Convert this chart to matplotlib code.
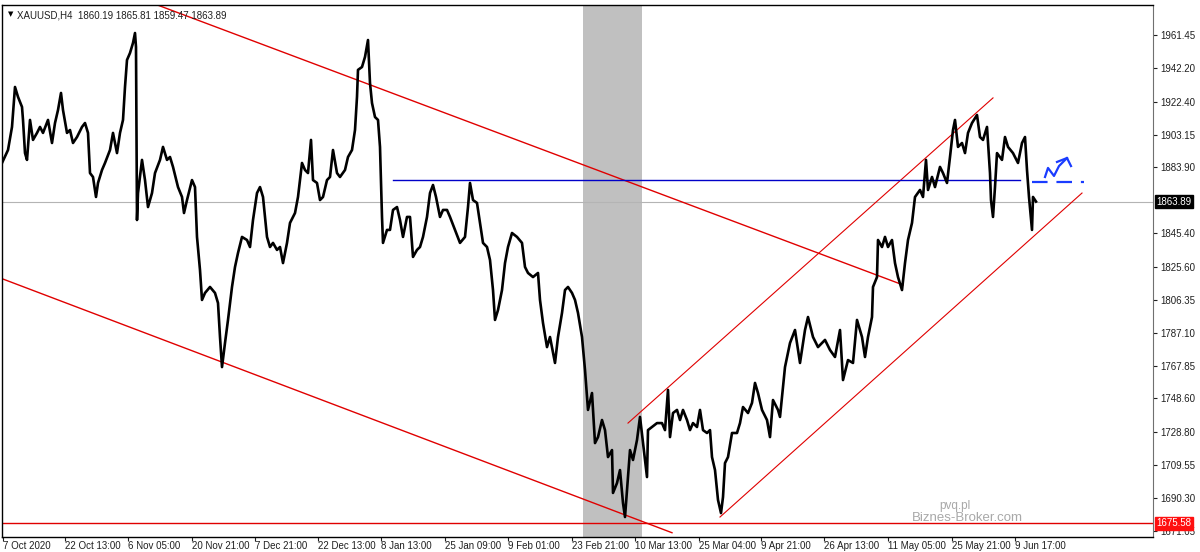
import matplotlib
matplotlib.use("Agg")
import matplotlib.pyplot as plt
import matplotlib.transforms as mtransforms

plt.rcParams["font.family"] = ["Liberation Sans", "DejaVu Sans"]

# H4 bar number (since 7 Oct 2020) and price
bar = [2, 8, 12, 15, 18, 22, 23, 25, 27, 30, 33, 37, 40, 43, 48, 52, 55, 58, 61, 63,
       67, 70, 73, 77, 82, 85, 88, 90, 93, 96, 98, 102, 105, 110, 113, 117, 120, 123, 125, 127,
       130, 133, 135, 136, 137, 138, 142, 145, 148, 152, 155, 160, 163, 167, 170, 173, 178, 182, 184, 187,
       192, 195, 197, 200, 202, 205, 210, 215, 218, 220, 222, 225, 228, 232, 235, 238, 242, 247, 250, 253,
       257, 260, 263, 267, 270, 273, 277, 280, 283, 287, 290, 295, 298, 302, 305, 308, 311, 313, 317, 320,
       323, 327, 330, 333, 337, 340, 345, 348, 352, 355, 357, 358, 362, 365, 368, 370, 372, 375, 378, 380,
       382, 383, 387, 390, 393, 397, 400, 403, 407, 410, 413, 417, 420, 423, 427, 430, 433, 436, 440, 443,
       447, 450, 455, 460, 465, 468, 470, 473, 477, 480, 483, 487, 490, 493, 495, 498, 502, 505, 508, 512,
       517, 522, 525, 528, 533, 538, 540, 543, 547, 550, 555, 558, 562, 565, 568, 572, 575, 578, 582, 585,
       588, 592, 595, 598, 602, 605, 608, 612, 613, 617, 620, 623, 625, 628, 630, 633, 637, 640, 643, 647,
       648, 652, 657, 662, 665, 668, 670, 673, 677, 680, 683, 687, 690, 693, 697, 700, 703, 707, 710, 712,
       715, 718, 721, 723, 725, 728, 732, 737, 740, 743, 748, 752, 755, 758, 762, 767, 770, 773, 778, 780,
       785, 790, 795, 800, 805, 808, 813, 818, 825, 830, 835, 840, 843, 848, 853, 857, 862, 865, 868, 872,
       873, 877, 878, 882, 885, 888, 892, 895, 898, 902, 905, 908, 912, 915, 920, 923, 926, 928, 932, 935,
       940, 943, 947, 950, 953, 955, 958, 962, 965, 968, 972, 977, 980, 983, 987, 990, 991, 993, 995, 997,
       1002, 1005, 1008, 1013, 1018, 1022, 1025, 1027, 1029, 1032, 1033, 1036]
price = [1886.5, 1894.1, 1907.6, 1931.0, 1925.2, 1919.3, 1911.7, 1892.3, 1888.3, 1911.7,
         1900.0, 1904.1, 1907.6, 1904.1, 1911.7, 1898.2, 1909.9, 1917.5, 1927.5, 1917.5,
         1904.1, 1905.8, 1898.2, 1901.7, 1907.6, 1909.9, 1904.1, 1880.6, 1878.3, 1866.6,
         1874.8, 1882.4, 1886.5, 1894.1, 1904.1, 1892.3, 1904.1, 1911.7, 1931.0, 1946.8,
         1950.9, 1956.8, 1962.6, 1954.4, 1853.1, 1868.9, 1888.3, 1876.5, 1860.7, 1868.9,
         1880.6, 1888.3, 1895.9, 1888.3, 1890.0, 1884.2, 1872.4, 1866.6, 1857.2, 1864.8,
         1876.5, 1872.4, 1843.2, 1823.8, 1806.3, 1810.4, 1813.9, 1810.4, 1804.5, 1784.6,
         1767.0, 1781.1, 1794.6, 1813.9, 1825.6, 1833.8, 1843.2, 1841.4, 1837.3, 1853.1,
         1868.9, 1872.4, 1866.6, 1843.2, 1837.3, 1839.7, 1835.6, 1837.3, 1827.9, 1839.7,
         1851.4, 1857.2, 1866.6, 1886.5, 1882.4, 1880.6, 1900.0, 1876.5, 1874.8, 1864.8,
         1866.6, 1876.5, 1878.3, 1894.1, 1880.6, 1878.3, 1882.4, 1890.0, 1894.1, 1905.8,
         1925.2, 1941.0, 1942.7, 1948.6, 1958.5, 1933.3, 1921.6, 1913.4, 1911.7, 1895.9,
         1854.9, 1839.7, 1847.3, 1847.3, 1859.0, 1860.7, 1853.1, 1843.2, 1854.9, 1854.9,
         1831.5, 1835.6, 1837.3, 1843.2, 1854.9, 1868.9, 1873.6, 1866.6, 1854.9, 1859.0,
         1859.0, 1854.9, 1847.3, 1839.7, 1843.2, 1860.7, 1874.8, 1864.8, 1863.1, 1851.4,
         1839.7, 1837.3, 1829.7, 1812.1, 1794.6, 1800.4, 1812.1, 1827.9, 1837.3, 1845.5,
         1843.2, 1839.7, 1825.6, 1822.1, 1819.7, 1822.1, 1806.3, 1792.8, 1778.7, 1784.6,
         1769.4, 1784.6, 1798.7, 1812.1, 1813.9, 1810.4, 1806.3, 1798.7, 1784.6, 1765.3,
         1741.9, 1751.8, 1722.5, 1726.0, 1736.0, 1730.1, 1714.3, 1718.4, 1693.3, 1699.1,
         1706.7, 1687.4, 1679.2, 1702.6, 1718.4, 1712.6, 1724.3, 1737.8, 1722.5, 1702.6,
         1730.1, 1731.9, 1734.2, 1734.2, 1730.1, 1753.6, 1726.0, 1740.1, 1741.9, 1736.0,
         1741.9, 1736.0, 1730.1, 1734.2, 1731.9, 1741.9, 1730.1, 1728.4, 1730.1, 1714.3,
         1706.7, 1689.2, 1681.5, 1690.9, 1710.8, 1714.3, 1728.4, 1728.4, 1734.2, 1743.6,
         1740.1, 1746.0, 1757.7, 1751.8, 1741.9, 1736.0, 1726.0, 1747.7, 1741.9, 1737.8,
         1767.0, 1781.1, 1788.7, 1769.4, 1788.7, 1796.3, 1784.6, 1778.7, 1782.9, 1777.0,
         1772.9, 1788.7, 1759.4, 1771.1, 1769.4, 1794.6, 1784.6, 1772.9, 1784.6, 1796.3,
         1813.9, 1819.7, 1841.4, 1837.3, 1843.2, 1837.3, 1841.4, 1827.9, 1819.7, 1812.1,
         1827.9, 1841.4, 1851.4, 1866.6, 1870.7, 1866.6, 1888.3, 1870.7, 1878.3, 1872.4,
         1884.2, 1880.6, 1874.8, 1890.0, 1905.8, 1911.7, 1895.9, 1898.2, 1892.3, 1904.1,
         1909.9, 1914.6, 1901.7, 1900.0, 1907.6, 1880.6, 1864.8, 1854.9, 1872.4, 1892.3,
         1888.3, 1901.7, 1895.9, 1892.3, 1886.5, 1898.2, 1901.7, 1882.4, 1866.6, 1847.3,
         1866.6, 1863.9]

# right price scale
price_ticks = [1961.45, 1942.20, 1922.40, 1903.15, 1883.90, 1845.40, 1825.60, 1806.35,
               1787.10, 1767.85, 1748.60, 1728.80, 1709.55, 1690.30, 1671.05]
# time scale
time_bars = [3, 65, 128, 192, 255, 318, 381, 445, 508, 572, 635, 699, 761, 824, 888, 952, 1015]
time_labels = ["7 Oct 2020", "22 Oct 13:00", "6 Nov 05:00", "20 Nov 21:00", "7 Dec 21:00",
               "22 Dec 13:00", "8 Jan 13:00", "25 Jan 09:00", "9 Feb 01:00", "23 Feb 21:00",
               "10 Mar 13:00", "25 Mar 04:00", "9 Apr 21:00", "26 Apr 13:00", "11 May 05:00",
               "25 May 21:00", "9 Jun 17:00"]

last_price = 1863.89
support = 1675.58
resistance = 1876.4

# trend lines: (bar, price) end points
down_upper = [(152, 1980.2), (903, 1815.1)]
down_lower = [(0, 1819.2), (672, 1670.0)]
up_upper = [(628, 1734.2), (993, 1924.6)]
up_lower = [(720, 1679.2), (1082, 1868.9)]
shaded = (583, 642)

# hand drawn forecast arrow
arrow_bar = [1045, 1048, 1054, 1059, 1067]
arrow_price = [1878.3, 1883.6, 1878.9, 1884.7, 1889.4]
head_bar = [1057, 1067, 1071]
head_price = [1887.1, 1889.4, 1884.7]

fig = plt.figure(figsize=(12, 5.52), dpi=100)
ax = fig.add_axes([2 / 1200, 15 / 552, 1151 / 1200, 532 / 552])
ax.set_xlim(2, 1153)
ax.set_ylim(1667.5, 1979.0)

ax.axvspan(*shaded, color="#c0c0c0", lw=0, zorder=0)
ax.axhline(last_price, color="#b4b4b4", lw=0.8, zorder=1)
ax.axhline(support, color="#e00000", lw=1.0, zorder=2)

for line, lw in [(down_upper, 1.0), (down_lower, 1.0), (up_upper, 0.8), (up_lower, 0.8)]:
    xs, ys = zip(*line)
    ax.plot(xs, ys, color="#e00000", lw=lw, zorder=2)

ax.plot([393, 1020], [resistance, resistance], color="#0000c8", lw=1.0, zorder=2)
ax.plot([1032, 1084], [1875.4, 1875.4], color="#1a3cff", lw=1.6,
        dashes=(7, 4), zorder=3)
ax.plot(arrow_bar, arrow_price, color="#1a3cff", lw=1.6, zorder=3)
ax.plot(head_bar, head_price, color="#1a3cff", lw=1.6, zorder=3)

ax.plot(bar, price, color="black", lw=1.9, zorder=4)

# axes styling
for side in ["left", "top", "bottom"]:
    ax.spines[side].set_color("black")
    ax.spines[side].set_linewidth(1.0)
ax.spines["right"].set_color("#707070")

ax.yaxis.tick_right()
ax.set_yticks(price_ticks)
ax.set_yticklabels([f"{v:.2f}" for v in price_ticks], fontsize=7, color="#202020")
ax.tick_params(axis="y", length=3, width=0.8, pad=2, colors="#202020")

ax.set_xticks(time_bars)
ax.set_xticklabels(time_labels, fontsize=7, color="#202020")
for lbl in ax.get_xticklabels():
    lbl.set_ha("left")
ax.tick_params(axis="x", length=3, width=0.8, pad=0, colors="#202020")

trans = mtransforms.blended_transform_factory(ax.transAxes, ax.transData)
ax.text(1.003, last_price, f"{last_price:.2f}", transform=trans, fontsize=7, color="white",
        ha="left", va="center", zorder=6,
        bbox=dict(boxstyle="square,pad=0.15", fc="black", ec="black"))
ax.text(1.003, support, f"{support:.2f}", transform=trans, fontsize=7, color="white",
        ha="left", va="center", zorder=6,
        bbox=dict(boxstyle="square,pad=0.15", fc="#ff1010", ec="#ff1010"))

ax.text(0.005, 0.988, "\u25bc", transform=ax.transAxes, fontsize=5, va="top", ha="left",
        family="DejaVu Sans")
ax.text(0.013, 0.99, "XAUUSD,H4  1860.19 1865.81 1859.47 1863.89", transform=ax.transAxes,
        fontsize=7, va="top", ha="left", color="#202020")

ax.text(0.828, 0.058, "pvq.pl", transform=ax.transAxes, fontsize=8.5, color="#a8a8a8",
        ha="center", va="center")
ax.text(0.839, 0.036, "Biznes-Broker.com", transform=ax.transAxes, fontsize=9.5,
        color="#a8a8a8", ha="center", va="center")

fig.savefig("out.png", dpi=100, facecolor="white")
